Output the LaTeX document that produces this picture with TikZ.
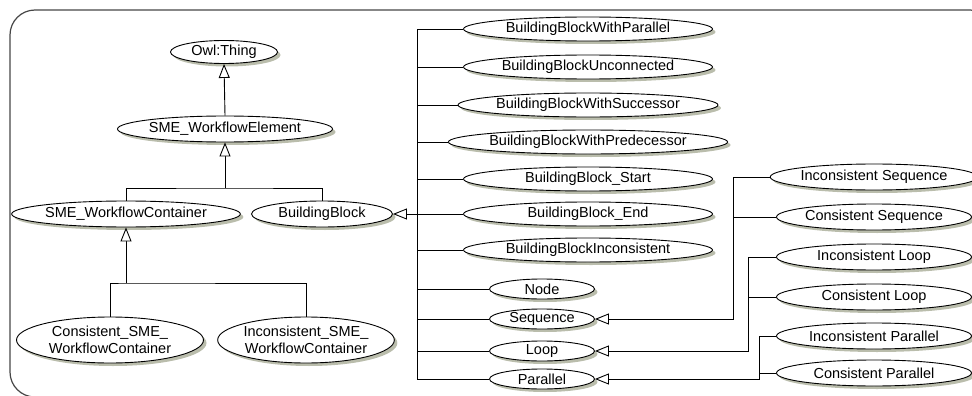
\documentclass[tikz,border=0pt]{standalone}
\usepackage{fontspec}
\setmainfont{Liberation Sans}
\usetikzlibrary{shapes.geometric,arrows.meta,shadows}
\definecolor{shadowc}{RGB}{186,189,172}
\definecolor{framec}{RGB}{70,70,70}
\tikzset{
  cls/.style={ellipse,draw,fill=white,inner sep=0pt,line width=0.9pt,
    font=\fontsize{14.5}{17}\selectfont,align=center,
    drop shadow={shadow xshift=3pt,shadow yshift=-3pt,fill=shadowc,opacity=1}},
  big/.style={cls,minimum width=249pt,minimum height=24pt},
  small/.style={cls,minimum width=105pt,minimum height=20pt},
  far/.style={cls,minimum width=195pt,minimum height=26pt},
  conn/.style={line width=0.9pt},
  inh/.style={conn,-{Triangle[open,length=14pt,width=11pt,fill=white]}}
}
\begin{document}
\begin{tikzpicture}[x=1pt,y=-1pt]
\clip (0,0) rectangle (972,396);
\draw[framec,line width=1.2pt,rounded corners=25pt] (10,10) rectangle (995,397);

% left part
\node[cls,minimum width=107pt,minimum height=23pt] (owl) at (224,52) {Owl:Thing};
\node[cls,minimum width=195pt,minimum height=26pt] (swe) at (225,129) {SME\_WorkflowElement};
\node[cls,minimum width=208pt,minimum height=26pt] (wc) at (126,214) {SME\_WorkflowContainer};
\node[cls,minimum width=141pt,minimum height=26pt] (bb) at (322,214) {BuildingBlock};
\node[cls,minimum width=187pt,minimum height=46pt] (cswc) at (110,340) {Consistent\_SME\_\\WorkflowContainer};
\node[cls,minimum width=161pt,minimum height=46pt] (iswc) at (306,340) {Inconsistent\_SME\_\\WorkflowContainer};

\coordinate (b1) at (225,188);
\coordinate (b2) at (126,283);
\draw[inh] (swe.north) -- (owl.south);
\draw[inh] (b1) -- (swe.south);
\draw[conn] (wc.north) |- (b1) -| (bb.north);
\draw[inh] (b2) -- (wc.south);
\draw[conn] (cswc.north) |- (b2) -| (iswc.north);

% middle column
\node[big] (bbpar) at (588,29) {BuildingBlockWithParallel};
\node[big] (bbunc) at (588,67) {BuildingBlockUnconnected};
\node[big] (bbsuc) at (588,105) {BuildingBlockWithSuccessor};
\node[big] (bbpre) at (588,142) {BuildingBlockWithPredecessor};
\node[big] (bbst) at (588,179) {BuildingBlock\_Start};
\node[big] (bbend) at (588,214) {BuildingBlock\_End};
\node[big] (bbinc) at (588,250) {BuildingBlockInconsistent};
\node[small] (node) at (542,289) {Node};
\node[small] (seq) at (542,319) {Sequence};
\node[small] (loop) at (542,351) {Loop};
\node[small] (par) at (542,379) {Parallel};

\coordinate (vt) at (417,29);
\draw[conn] (bbpar.west) -- (vt) -- (vt |- par.west) -- (par.west);
\foreach \n in {bbunc,bbsuc,bbpre,bbst,bbinc,node,seq,loop}
  \draw[conn] (\n.west) -- (\n.west -| vt);
\draw[inh] (bbend.west) -- (bb.east);

% right column
\node[far] (iseq) at (874,177) {Inconsistent Sequence};
\node[far] (cseq) at (874,217) {Consistent Sequence};
\node[far] (iloop) at (874,257) {Inconsistent Loop};
\node[far] (cloop) at (874,297) {Consistent Loop};
\node[far] (ipar) at (874,336) {Inconsistent Parallel};
\node[far] (cpar) at (874,373) {Consistent Parallel};

\coordinate (sj) at (733,0);
\coordinate (lj) at (748,0);
\coordinate (pj) at (759,0);
\draw[inh] (iseq.west) -- (iseq.west -| sj) -- (seq.east -| sj) -- (seq.east);
\draw[conn] (cseq.west) -- (cseq.west -| sj);
\draw[inh] (iloop.west) -- (iloop.west -| lj) -- (loop.east -| lj) -- (loop.east);
\draw[conn] (cloop.west) -- (cloop.west -| lj);
\draw[inh] (ipar.west) -- (ipar.west -| pj) -- (par.east -| pj) -- (par.east);
\draw[conn] (cpar.west) -- (cpar.west -| pj);
\end{tikzpicture}
\end{document}
